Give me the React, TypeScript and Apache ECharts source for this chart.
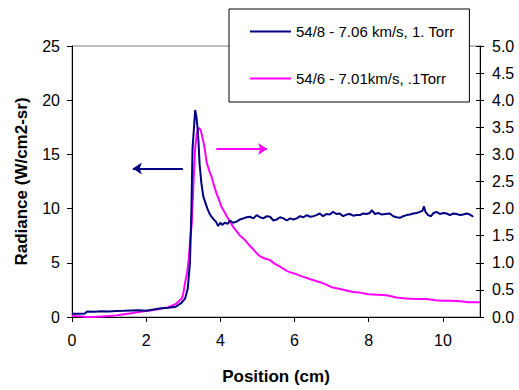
import React, { useEffect, useRef } from "react";
import * as echarts from "echarts";

const FONT = "'Liberation Sans', Arial, sans-serif";

// Run 54/8 radiance (left axis, W/cm2-sr)
const blueName = "54/8 - 7.06 km/s, 1. Torr";
const blueX = [
  0.0, 0.2, 0.35, 0.4, 0.6, 0.8, 1.0, 1.2, 1.4, 1.6, 1.8, 2.0, 2.2, 2.4, 2.6, 2.8, 2.95, 3.05, 3.12, 3.18,
  3.22, 3.25, 3.29, 3.32, 3.35, 3.38, 3.41, 3.44, 3.49, 3.54, 3.6, 3.65, 3.7, 3.76, 3.82, 3.88, 3.94, 4.0,
  4.05, 4.12, 4.2, 4.26, 4.34, 4.44, 4.53, 4.62, 4.71, 4.8, 4.89, 4.98, 5.07, 5.16, 5.25, 5.34, 5.43, 5.52,
  5.61, 5.7, 5.79, 5.88, 5.97, 6.06, 6.15, 6.24, 6.33, 6.42, 6.5, 6.59, 6.68, 6.77, 6.86, 6.95, 7.04, 7.13,
  7.22, 7.31, 7.4, 7.49, 7.58, 7.67, 7.76, 7.85, 7.94, 8.03, 8.08, 8.17, 8.26, 8.35, 8.44, 8.57, 8.66, 8.75,
  8.84, 8.93, 9.02, 9.11, 9.2, 9.29, 9.38, 9.45, 9.49, 9.53, 9.6, 9.68, 9.75, 9.83, 9.92, 10.01, 10.1,
  10.19, 10.28, 10.37, 10.46, 10.55, 10.64, 10.73, 10.82,
];
const blueY = [
  0.3, 0.3, 0.32, 0.5, 0.48, 0.52, 0.5, 0.55, 0.57, 0.6, 0.62, 0.58, 0.7, 0.8, 0.85, 0.95, 1.3, 1.7, 2.6, 5.0,
  10.0, 15.6, 17.5, 19.1, 18.6, 17.6, 16.2, 14.1, 12.3, 11.1, 10.5, 10.0, 9.6, 9.25, 9.0, 8.8, 8.4, 8.7,
  8.5, 8.7, 8.6, 8.9, 8.7, 8.8, 9.0, 9.1, 9.2, 9.25, 9.1, 9.4, 9.2, 9.1, 9.3, 9.25, 8.9, 9.0,
  9.2, 9.1, 8.9, 9.1, 9.0, 9.1, 9.3, 9.2, 9.4, 9.25, 9.3, 9.4, 9.55, 9.3, 9.5, 9.45, 9.7, 9.5,
  9.55, 9.3, 9.45, 9.5, 9.35, 9.4, 9.4, 9.55, 9.5, 9.6, 9.85, 9.5, 9.6, 9.45, 9.5, 9.55, 9.3, 9.2,
  9.15, 9.3, 9.4, 9.45, 9.55, 9.6, 9.7, 9.8, 10.2, 9.7, 9.4, 9.3, 9.6, 9.7, 9.5, 9.6, 9.55,
  9.4, 9.55, 9.5, 9.4, 9.45, 9.55, 9.45, 9.25,
];

// Run 54/6 radiance (right axis)
const pinkName = "54/6 - 7.01km/s, .1Torr";
const pinkX = [
  0.0, 0.1, 0.25, 0.4, 0.6, 0.8, 1.0, 1.2, 1.4, 1.6, 1.8, 2.0, 2.2, 2.4, 2.6, 2.8, 2.96, 3.0, 3.05, 3.1,
  3.15, 3.19, 3.23, 3.27, 3.32, 3.37, 3.42, 3.47, 3.54, 3.58, 3.63, 3.7, 3.77, 3.84, 3.9, 3.97, 4.03, 4.1,
  4.18, 4.26, 4.35, 4.44, 4.53, 4.62, 4.71, 4.8, 4.9, 5.0, 5.07, 5.2, 5.34, 5.47, 5.61, 5.7, 5.79, 5.9,
  6.0, 6.2, 6.41, 6.6, 6.78, 7.0, 7.2, 7.4, 7.58, 7.76, 8.0, 8.24, 8.48, 8.75, 9.0, 9.28, 9.56, 9.8,
  10.0, 10.23, 10.46, 10.7, 11.0,
];
const pinkY = [
  0.03, 0.02, 0.01, 0.0, 0.0, 0.01, 0.02, 0.03, 0.05, 0.07, 0.09, 0.11, 0.13, 0.15, 0.18, 0.24, 0.34, 0.43, 0.64, 0.8,
  1.1, 1.45, 1.73, 2.4, 3.12, 3.4, 3.49, 3.45, 3.24, 3.1, 2.85, 2.7, 2.57, 2.4, 2.27, 2.15, 2.03, 1.95,
  1.85, 1.76, 1.66, 1.58, 1.5, 1.45, 1.38, 1.31, 1.24, 1.16, 1.12, 1.08, 1.05, 0.98, 0.93, 0.89, 0.85, 0.82,
  0.8, 0.75, 0.7, 0.66, 0.62, 0.55, 0.52, 0.49, 0.46, 0.45, 0.42, 0.41, 0.4, 0.36, 0.34, 0.33, 0.33, 0.31,
  0.3, 0.3, 0.29, 0.27, 0.27,
];

// Arrows pointing each curve to its axis: [x from, x to, y]
const blueArrow = [2.99, 1.64, 13.7];
const pinkArrow = [3.89, 5.26, 3.1];

const BLUE = "#000080";
const PINK = "#FF00FF";

const zip = (xs: number[], ys: number[]) => xs.map((x, i) => [x, ys[i]]);

export default function App() {
  const ref = useRef<HTMLDivElement>(null);

  useEffect(() => {
    if (!ref.current) return;
    const chart = echarts.init(ref.current, null, { renderer: "svg" });
    const tickLabel = { color: "#000", fontSize: 16, fontFamily: FONT };
    const arrowLine = (color: string, a: number[]) => ({
      silent: true,
      symbol: ["none", "arrow"],
      symbolSize: 9,
      label: { show: false },
      lineStyle: { color, width: 2, type: "solid" },
      emphasis: { disabled: true },
      data: [[{ coord: [a[0], a[2]] }, { coord: [a[1], a[2]] }]],
    });
    chart.setOption({
      animation: false,
      textStyle: { fontFamily: FONT },
      grid: {
        left: 72,
        top: 46,
        right: 39,
        bottom: 68,
        show: true,
        borderColor: "#808080",
        borderWidth: 1,
      },
      legend: {
        left: 229,
        top: 9,
        orient: "vertical",
        backgroundColor: "#fff",
        borderColor: "#000",
        borderWidth: 1,
        borderRadius: 0,
        padding: [15, 15, 16, 20],
        itemWidth: 41,
        itemHeight: 14,
        itemGap: 32,
        itemStyle: { opacity: 0 },
        textStyle: { color: "#000", fontSize: 15, fontFamily: FONT },
        data: [blueName, pinkName],
      },
      xAxis: {
        type: "value",
        min: 0,
        max: 11,
        interval: 2,
        name: "Position (cm)",
        nameLocation: "middle",
        nameGap: 51,
        nameTextStyle: { color: "#000", fontSize: 17, fontWeight: "bold", fontFamily: FONT },
        axisLine: { lineStyle: { color: "#000", width: 1 } },
        axisTick: { length: 5, lineStyle: { color: "#000" } },
        axisLabel: { ...tickLabel, margin: 15, showMaxLabel: false },
        splitLine: { show: false },
      },
      yAxis: [
        {
          type: "value",
          min: 0,
          max: 25,
          interval: 5,
          name: "Radiance (W/cm2-sr)",
          nameLocation: "middle",
          nameGap: 42,
          nameTextStyle: { color: "#000", fontSize: 17, fontWeight: "bold", fontFamily: FONT },
          axisLine: { show: true, lineStyle: { color: "#000", width: 1 } },
          axisTick: { show: true, length: 5, lineStyle: { color: "#000" } },
          axisLabel: { ...tickLabel, margin: 12 },
          splitLine: { show: false },
        },
        {
          type: "value",
          position: "right",
          min: 0,
          max: 5,
          interval: 0.5,
          axisLine: { show: true, lineStyle: { color: "#000", width: 1 } },
          axisTick: { show: true, length: 4, lineStyle: { color: "#000" } },
          axisLabel: { ...tickLabel, margin: 12, formatter: (v: number) => v.toFixed(1) },
          splitLine: { show: false },
        },
        {
          // inner half of the crossing ticks on the right axis
          type: "value",
          position: "right",
          min: 0,
          max: 5,
          interval: 0.5,
          axisLine: { show: false },
          axisTick: { show: true, inside: true, length: 4, lineStyle: { color: "#000" } },
          axisLabel: { show: false },
          splitLine: { show: false },
        },
      ],
      series: [
        {
          name: blueName,
          type: "line",
          yAxisIndex: 0,
          data: zip(blueX, blueY),
          symbol: "none",
          lineStyle: { color: BLUE, width: 2 },
          itemStyle: { color: BLUE },
          markLine: arrowLine(BLUE, blueArrow),
          z: 3,
        },
        {
          name: pinkName,
          type: "line",
          yAxisIndex: 1,
          data: zip(pinkX, pinkY),
          symbol: "none",
          lineStyle: { color: PINK, width: 2 },
          itemStyle: { color: PINK },
          markLine: arrowLine(PINK, pinkArrow),
          z: 2,
        },
      ],
    });
    return () => chart.dispose();
  }, []);

  return (
    <div
      ref={ref}
      style={{ position: "absolute", left: 0, top: 0, width: 519, height: 390 }}
    />
  );
}
